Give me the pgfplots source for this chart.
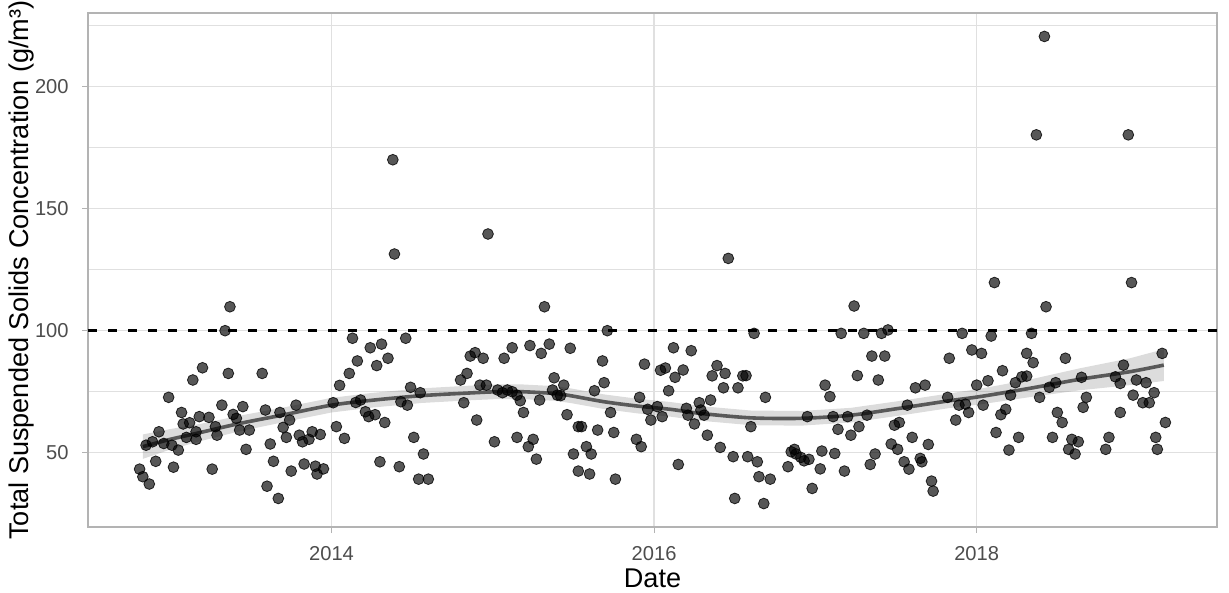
\documentclass[border=0pt]{standalone}
\usepackage{fontspec}
\setmainfont{Liberation Sans}
\usepackage{pgfplots}
\pgfplotsset{compat=1.18}
\usepackage{pgfplotstable}
\definecolor{gridc}{HTML}{E0E0E0}
\definecolor{borderc}{HTML}{B3B3B3}
\definecolor{tickc}{HTML}{4D4D4D}
\definecolor{smoothc}{HTML}{595959}

\pgfplotstableread{
x y
2013.37 109.8
2013.34 100.0
2014.13 96.9
2014.24 93.0
2014.31 94.5
2014.35 88.7
2014.16 87.6
2014.28 85.7
2014.11 82.5
2013.20 84.8
2013.14 79.8
2013.36 82.5
2013.57 82.5
2014.05 77.6
2012.99 72.7
2014.01 70.5
2014.15 70.6
2014.18 71.6
2014.21 66.8
2014.23 64.8
2014.27 65.6
2014.33 62.4
2013.07 66.5
2013.32 69.5
2013.45 68.9
2013.18 64.8
2013.24 64.5
2013.08 61.8
2013.12 62.3
2013.39 65.7
2013.41 64.1
2013.59 67.5
2013.68 66.5
2013.78 69.5
2013.74 63.4
2013.70 60.4
2013.28 60.7
2013.43 59.3
2013.49 59.3
2012.93 58.6
2013.16 58.6
2013.29 57.2
2013.10 56.3
2013.16 55.5
2012.85 53.1
2012.89 54.5
2012.96 53.8
2013.01 53.1
2013.05 51.1
2013.47 51.4
2013.62 53.6
2013.72 56.3
2013.80 57.2
2013.82 54.5
2013.86 55.5
2013.88 58.6
2013.93 57.5
2014.03 60.7
2014.08 55.9
2012.91 46.5
2013.02 44.1
2013.26 43.3
2013.64 46.5
2013.75 42.5
2013.83 45.4
2013.90 44.5
2013.91 41.3
2013.95 43.4
2014.30 46.3
2012.81 43.3
2012.83 40.2
2012.87 37.2
2013.60 36.3
2013.67 31.3
2014.39 131.4
2014.46 96.9
2014.49 76.8
2014.55 74.6
2014.43 70.9
2014.47 69.5
2014.51 56.3
2014.57 49.5
2014.42 44.3
2014.54 39.2
2014.60 39.2
2014.80 79.8
2014.84 82.5
2014.82 70.5
2014.86 89.6
2014.89 91.0
2014.94 88.7
2014.90 63.4
2014.92 77.7
2014.96 77.7
2015.01 54.5
2015.03 75.7
2015.06 74.6
2015.09 75.7
2015.12 75.0
2015.15 73.6
2015.17 71.3
2015.19 66.5
2015.07 88.7
2015.12 93.0
2015.23 93.9
2015.30 90.7
2015.35 94.5
2015.32 109.8
2015.15 56.3
2015.22 52.5
2015.25 55.5
2015.27 47.4
2015.29 71.6
2015.37 75.7
2015.38 80.7
2015.40 73.6
2015.42 73.4
2015.44 77.7
2015.48 92.8
2015.46 65.6
2015.53 60.7
2015.55 60.7
2015.50 49.5
2015.53 42.5
2015.58 52.5
2015.61 49.5
2015.60 41.3
2015.63 75.4
2015.65 59.3
2015.68 87.6
2015.69 78.7
2015.71 100.0
2015.73 66.5
2015.75 58.3
2015.76 39.2
2015.89 55.5
2015.92 52.5
2015.91 72.7
2015.94 86.3
2015.96 67.8
2015.98 63.4
2016.02 68.9
2016.05 64.8
2016.04 83.8
2016.07 84.7
2016.09 75.4
2016.46 129.6
2016.12 93.0
2016.23 91.8
2016.13 80.9
2016.18 83.9
2016.20 68.2
2016.21 65.4
2016.28 70.5
2016.29 67.5
2016.31 65.4
2016.25 61.8
2016.15 45.2
2016.35 71.6
2016.33 57.2
2016.39 85.7
2016.36 81.5
2016.44 82.5
2016.43 76.6
2016.52 76.6
2016.55 81.5
2016.57 81.6
2016.41 52.2
2016.49 48.4
2016.58 48.4
2016.64 46.3
2016.60 60.7
2016.62 98.9
2016.69 72.7
2016.65 40.2
2016.72 39.2
2016.50 31.3
2016.68 29.2
2016.83 44.3
2016.85 50.4
2016.87 51.4
2016.88 49.5
2016.91 48.1
2016.93 46.7
2016.96 47.3
2016.98 35.4
2017.03 43.4
2017.04 50.7
2016.95 64.8
2017.06 77.7
2017.09 73.0
2017.11 64.8
2017.12 49.7
2017.14 59.6
2017.16 98.9
2017.18 42.5
2017.20 64.8
2017.22 57.2
2017.24 110.1
2017.26 81.6
2017.27 60.7
2017.30 98.9
2017.32 65.4
2017.34 45.2
2017.35 89.6
2017.37 49.5
2017.39 79.8
2017.41 98.9
2017.43 89.6
2017.45 100.3
2017.47 53.6
2017.49 61.3
2017.51 51.4
2017.52 62.4
2017.55 46.3
2017.57 69.5
2017.58 43.3
2017.60 56.3
2017.62 76.6
2017.65 47.7
2017.66 46.3
2017.68 77.7
2017.70 53.4
2017.72 38.4
2017.73 34.3
2017.83 88.7
2017.82 72.7
2018.11 119.7
2018.96 119.7
2018.43 109.8
2017.91 98.9
2017.97 92.1
2018.03 90.7
2018.09 97.8
2018.34 98.9
2018.31 90.7
2018.35 86.9
2018.55 88.7
2018.16 83.6
2018.07 79.5
2018.00 77.7
2018.24 78.7
2018.28 81.1
2018.31 81.4
2018.21 73.6
2018.45 76.8
2018.49 78.7
2018.65 80.9
2018.39 72.7
2018.68 72.7
2018.66 68.6
2018.91 85.9
2018.86 81.1
2018.89 78.4
2018.99 79.8
2019.05 78.7
2019.10 74.6
2018.97 73.6
2019.03 70.5
2019.07 70.5
2019.15 90.7
2019.17 62.4
2017.89 69.5
2017.93 69.9
2017.95 66.5
2018.04 69.5
2017.87 63.4
2018.18 67.8
2018.15 65.6
2018.12 58.3
2018.26 56.3
2018.20 51.1
2018.47 56.3
2018.50 66.5
2018.53 62.4
2018.59 55.5
2018.63 54.5
2018.57 51.4
2018.61 49.5
2018.82 56.3
2018.80 51.4
2018.89 66.5
2019.11 56.3
2019.12 51.4
2014.38 170.0
2014.97 139.6
2018.42 220.5
2018.37 180.2
2018.94 180.2
}\pts

\pgfplotstableread{
x y
2012.83 52.5
2013.00 55.5
2013.20 58.5
2013.43 62.0
2013.70 65.5
2014.00 69.5
2014.25 71.5
2014.56 73.4
2014.86 74.5
2015.03 75.0
2015.18 75.0
2015.38 74.3
2015.48 73.4
2015.69 70.9
2015.90 69.1
2016.10 67.8
2016.29 66.1
2016.60 64.3
2016.91 64.1
2017.22 65.4
2017.52 68.2
2017.83 71.3
2018.02 73.0
2018.33 76.4
2018.64 80.1
2018.95 83.2
2019.16 85.9
}\smooth

\begin{document}
\begin{tikzpicture}
\begin{axis}[
  scale only axis, width=564.5bp, height=257bp,
  xmin=2012.49, xmax=2019.49, ymin=19.6, ymax=230.1,
  xtick={2014,2016,2018}, ytick={50,100,150,200},
  minor ytick={75,125,175,225},
  grid=both,
  major grid style={gridc, line width=0.7bp},
  minor grid style={gridc, line width=0.45bp},
  axis line style={borderc, line width=0.8bp},
  tick align=outside, major tick length=3bp, minor tick length=0pt,
  tick style={borderc, line width=0.6bp},
  xtick pos=bottom, ytick pos=left,
  /pgf/number format/assume math mode=true,
  /pgf/number format/1000 sep={},
  ticklabel style={font=\fontsize{10.1}{12}\selectfont, text=tickc, inner sep=0pt},
  xticklabel style={anchor=north, yshift=-6.5bp},
  yticklabel style={anchor=east, xshift=-6.5bp},
  xlabel={Date},
  ylabel={Total Suspended Solids Concentration (g/m³)},
  label style={font=\fontsize{13.6}{15}\selectfont, text=black},
  xlabel style={at={(axis description cs:0.5,-0.0992)}, anchor=center},
  ylabel style={at={(axis description cs:-0.0593,0.5)}, anchor=center},
]
\coordinate (sw) at (rel axis cs:0,0);
\coordinate (ne) at (rel axis cs:1,1);
\addplot[only marks, mark=*, mark size=2.7bp,
  mark options={fill=black, fill opacity=0.66, draw=black, draw opacity=0.8, line width=0.4bp}]
  table[x=x,y=y]{\pts};
\addplot[draw=none, fill=gray, fill opacity=0.28] coordinates {
(2012.83,57.5) (2013.00,59.7) (2013.20,62.0) (2013.43,65.2) (2013.70,68.5) (2014.00,72.5)
(2014.25,74.5) (2014.56,76.4) (2014.86,77.5) (2015.03,78.0) (2015.18,78.0) (2015.38,77.3)
(2015.48,76.4) (2015.69,73.9) (2015.90,72.1) (2016.10,70.8) (2016.29,69.1) (2016.60,67.3)
(2016.91,67.1) (2017.22,68.4) (2017.52,71.2) (2017.83,74.3) (2018.02,76.2) (2018.33,80.0)
(2018.64,84.6) (2018.95,88.7) (2019.16,92.4)
(2019.16,79.4) (2018.95,77.7) (2018.64,75.6) (2018.33,72.8) (2018.02,69.8) (2017.83,68.3)
(2017.52,65.2) (2017.22,62.4) (2016.91,61.1) (2016.60,61.3) (2016.29,63.1) (2016.10,64.8)
(2015.90,66.1) (2015.69,67.9) (2015.48,70.4) (2015.38,71.3) (2015.18,72.0) (2015.03,72.0)
(2014.86,71.5) (2014.56,70.4) (2014.25,68.5) (2014.00,66.5) (2013.70,62.5) (2013.43,58.8)
(2013.20,55.0) (2013.00,51.3) (2012.83,47.5)
} -- cycle;
\addplot[smoothc, line width=1.8bp, smooth, tension=0.5] table[x=x,y=y]{\smooth};
\addplot[black, line width=1.3bp, dash pattern=on 4.5bp off 5.5bp] coordinates {(2012.49,100) (2019.49,100)};
\end{axis}
\pgfresetboundingbox
\path[use as bounding box] ([shift={(-44bp,-33bp)}]sw) rectangle ([shift={(6bp,6.5bp)}]ne);
\end{tikzpicture}
\end{document}
